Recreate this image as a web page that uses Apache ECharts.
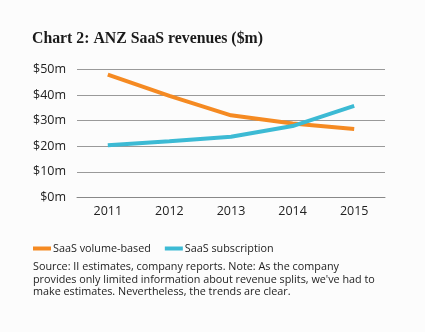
<!DOCTYPE html>
<html><head><meta charset="utf-8">
<script src="https://cdn.jsdelivr.net/npm/echarts@6/dist/echarts.min.js"></script>
<style>html,body{margin:0;padding:0;background:#fcfcfc}#c{width:425px;height:332px}</style>
</head><body><div id="c"></div>
<script>
var years = ['2011','2012','2013','2014','2015'];
var volumeBased = [48.0, 39.7, 32.1, 28.9, 26.8];
var subscription = [20.4, 22.0, 23.7, 27.9, 35.8];
var seriesNames = ['SaaS volume-based','SaaS subscription'];
var titleText = 'Chart 2: ANZ SaaS revenues ($m)';
var sourceLines = [
  'Source: II estimates, company reports. Note: As the company',
  "provides only limited information about revenue splits, we've had to",
  'make estimates. Nevertheless, the trends are clear.'
];
var chart = echarts.init(document.getElementById('c'), null, {renderer:'canvas'});
var font = '"Open Sans", sans-serif';
chart.setOption({
  backgroundColor:'#fcfcfc',
  animation:false,
  title:{text:titleText, left:27, top:26, textStyle:{fontFamily:'"Liberation Serif", "DejaVu Serif", serif', fontWeight:'bold', fontSize:15.8, color:'#1a1a1a'}},
  grid:{left:77, right:40, top:69.5, height:128, containLabel:false},
  legend:{left:28, top:238, itemWidth:18, itemHeight:4, itemGap:14, icon:'rect',
    textStyle:{fontFamily:font, fontSize:10.8, color:'#222', padding:[0,0,0,-3]}, data:seriesNames},
  xAxis:{type:'category', data:years, boundaryGap:true,
    axisLine:{lineStyle:{color:'#888', width:1}},
    axisTick:{alignWithLabel:true, length:5, lineStyle:{color:'#666'}},
    axisLabel:{fontFamily:font, fontSize:12.5, color:'#222', margin:7}},
  yAxis:{type:'value', min:0, max:50, interval:10,
    axisLine:{show:false}, axisTick:{show:false},
    splitLine:{lineStyle:{color:'#9a9a9a', width:1}},
    axisLabel:{fontFamily:font, fontSize:12.5, color:'#222', margin:11, formatter:function(v){return '$'+v+'m';}}},
  series:[
    {name:seriesNames[0], type:'line', data:volumeBased, symbol:'none', lineStyle:{width:4, color:'#f58a22'}, itemStyle:{color:'#f58a22'}},
    {name:seriesNames[1], type:'line', data:subscription, symbol:'none', lineStyle:{width:4, color:'#3cbad4'}, itemStyle:{color:'#3cbad4'}}
  ],
  graphic:[{type:'text', left:33, top:261, style:{text:sourceLines.join('\n'), font:'10.8px '+font, fill:'#222', lineHeight:12.5}}]
});
</script></body></html>
